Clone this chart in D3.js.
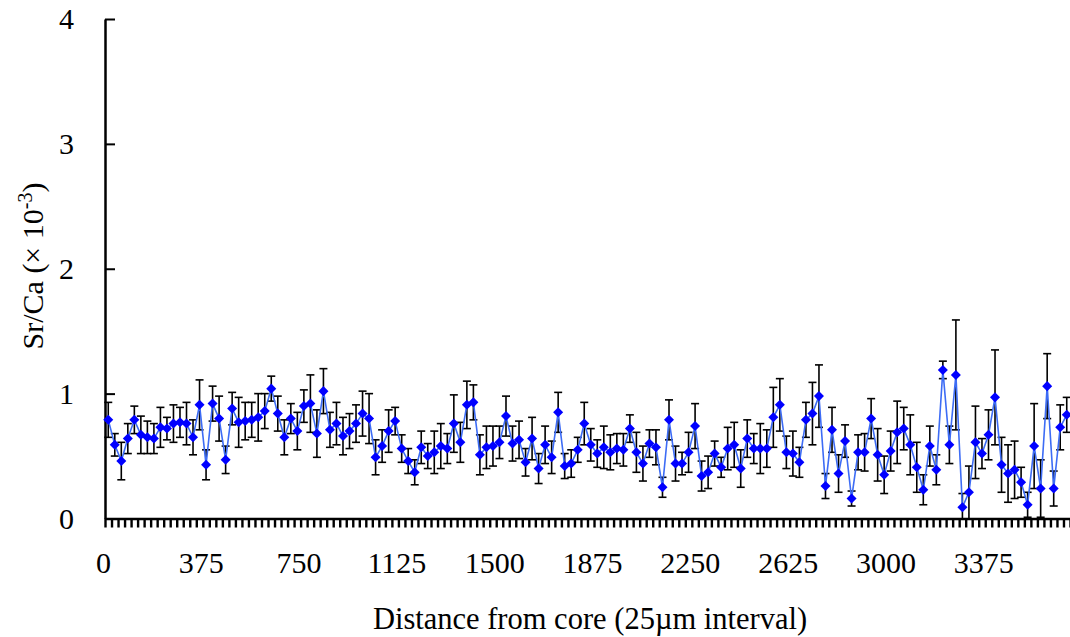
<!DOCTYPE html>
<html>
<head>
<meta charset="utf-8">
<script src="https://cdn.jsdelivr.net/npm/d3@7"></script>
<style>
  html, body { margin: 0; padding: 0; background: #fff; }
  svg text { font-family: "Liberation Serif", "Times New Roman", serif; fill: #000; }
</style>
</head>
<body>
<div id="chart"></div>
<script>
// Sr/Ca ratio (x 10^-3) measured every 25 µm from the core
const srCa = [
  0.79, 0.59, 0.46, 0.64, 0.79, 0.67, 0.65, 0.64, 0.73, 0.72,
  0.76, 0.77, 0.76, 0.65, 0.91, 0.43, 0.92, 0.80, 0.47, 0.88,
  0.77, 0.78, 0.79, 0.81, 0.86, 1.04, 0.84, 0.65, 0.80, 0.70,
  0.90, 0.92, 0.68, 1.02, 0.71, 0.76, 0.66, 0.70, 0.76, 0.84,
  0.80, 0.49, 0.58, 0.70, 0.78, 0.56, 0.46, 0.37, 0.57, 0.50,
  0.53, 0.58, 0.56, 0.76, 0.61, 0.91, 0.93, 0.51, 0.57, 0.58,
  0.61, 0.82, 0.60, 0.63, 0.45, 0.64, 0.40, 0.59, 0.49, 0.85,
  0.42, 0.44, 0.55, 0.76, 0.59, 0.52, 0.57, 0.53, 0.56, 0.55,
  0.72, 0.53, 0.44, 0.60, 0.57, 0.25, 0.79, 0.44, 0.44, 0.53,
  0.74, 0.34, 0.37, 0.52, 0.41, 0.56, 0.59, 0.40, 0.64, 0.56,
  0.56, 0.56, 0.81, 0.91, 0.53, 0.52, 0.45, 0.79, 0.84, 0.98,
  0.26, 0.71, 0.36, 0.62, 0.16, 0.53, 0.53, 0.80, 0.51, 0.35,
  0.54, 0.69, 0.72, 0.59, 0.41, 0.23, 0.58, 0.39, 1.19, 0.59,
  1.15, 0.09, 0.21, 0.61, 0.52, 0.67, 0.97, 0.43, 0.36, 0.39,
  0.29, 0.11, 0.58, 0.24, 1.06, 0.24, 0.73, 0.83
];

// error bar half-length for each point
const srCaErr = [
  0.14, 0.09, 0.15, 0.12, 0.11, 0.15, 0.13, 0.12, 0.16, 0.09,
  0.15, 0.12, 0.17, 0.14, 0.20, 0.12, 0.14, 0.18, 0.11, 0.13,
  0.20, 0.15, 0.14, 0.19, 0.14, 0.10, 0.14, 0.14, 0.12, 0.15,
  0.13, 0.23, 0.19, 0.18, 0.14, 0.17, 0.15, 0.14, 0.15, 0.18,
  0.20, 0.14, 0.13, 0.17, 0.11, 0.11, 0.10, 0.10, 0.13, 0.10,
  0.17, 0.18, 0.12, 0.23, 0.16, 0.19, 0.14, 0.16, 0.17, 0.16,
  0.13, 0.16, 0.14, 0.15, 0.11, 0.17, 0.12, 0.15, 0.13, 0.16,
  0.10, 0.11, 0.10, 0.17, 0.13, 0.11, 0.17, 0.14, 0.12, 0.13,
  0.11, 0.16, 0.14, 0.11, 0.14, 0.08, 0.16, 0.14, 0.09, 0.16,
  0.18, 0.12, 0.13, 0.10, 0.08, 0.17, 0.18, 0.15, 0.15, 0.12,
  0.20, 0.15, 0.24, 0.21, 0.13, 0.18, 0.12, 0.14, 0.25, 0.25,
  0.10, 0.18, 0.15, 0.13, 0.06, 0.14, 0.15, 0.16, 0.21, 0.15,
  0.16, 0.25, 0.17, 0.24, 0.20, 0.12, 0.16, 0.12, 0.07, 0.15,
  0.44, 0.11, 0.21, 0.29, 0.12, 0.20, 0.38, 0.22, 0.23, 0.23,
  0.12, 0.10, 0.34, 0.23, 0.26, 0.14, 0.18, 0.14
];

const interval = 25;            // µm between measurements
const xLabelValues = [0, 375, 750, 1125, 1500, 1875, 2250, 2625, 3000, 3375];
const yTickValues = [0, 1, 2, 3, 4];

const width = 1070, height = 637;
const plotLeft = 105, plotRight = 1070, plotTop = 19, plotBottom = 518.5;

const svg = d3.select("#chart").append("svg")
  .attr("width", width)
  .attr("height", height);

const xMax = srCa.length * interval;
const x = d3.scaleLinear().domain([0, xMax]).range([plotLeft, plotRight]);
const y = d3.scaleLinear().domain([0, 4]).range([plotBottom, plotTop]);

const points = srCa.map((v, i) => ({ d: i * interval + interval / 2, v, e: srCaErr[i] }));

// x axis: a small tick at every interval, labels every 375 µm
const xAxis = d3.axisBottom(x)
  .tickValues(d3.range(0, xMax + 1, interval))
  .tickSizeInner(9)
  .tickSizeOuter(0)
  .tickPadding(24)
  .tickFormat(d => xLabelValues.includes(d) ? d : "");

const gx = svg.append("g")
  .attr("transform", `translate(0,${plotBottom})`)
  .call(xAxis);
gx.select(".domain").attr("stroke", "#000").attr("stroke-width", 2.5);
gx.selectAll(".tick line").attr("stroke", "#000").attr("stroke-width", 2.4);
gx.selectAll(".tick text").style("font-size", "30px").attr("dx", -2);

// y axis: ticks point into the plot
const yAxis = d3.axisLeft(y)
  .tickValues(yTickValues)
  .tickSizeInner(-10)
  .tickSizeOuter(0)
  .tickPadding(31)
  .tickFormat(d3.format("d"));

const gy = svg.append("g")
  .attr("transform", `translate(${plotLeft},0)`)
  .call(yAxis);
gy.select(".domain").attr("stroke", "#000").attr("stroke-width", 2.5);
gy.selectAll(".tick line").attr("stroke", "#000").attr("stroke-width", 2);
gy.selectAll(".tick text").style("font-size", "30px");

// error bars
const eb = svg.append("g").attr("stroke", "#000").attr("stroke-width", 1.6);
const capW = 4;
points.forEach(p => {
  const yHi = y(p.v + p.e), yLo = y(Math.max(0, p.v - p.e));
  const px = x(p.d);
  eb.append("line").attr("x1", px).attr("x2", px).attr("y1", yHi).attr("y2", yLo);
  eb.append("line").attr("x1", px - capW).attr("x2", px + capW).attr("y1", yHi).attr("y2", yHi);
  if (p.v - p.e > 0) {
    eb.append("line").attr("x1", px - capW).attr("x2", px + capW).attr("y1", yLo).attr("y2", yLo);
  }
});

// connecting line
svg.append("path")
  .datum(points)
  .attr("fill", "none")
  .attr("stroke", "#3d6cf5")
  .attr("stroke-width", 1.6)
  .attr("d", d3.line().x(p => x(p.d)).y(p => y(p.v)));

// diamond markers
const diamond = d3.symbol().type(d3.symbolDiamond2 || d3.symbolDiamond).size(64);
svg.append("g")
  .selectAll("path")
  .data(points)
  .join("path")
  .attr("transform", p => `translate(${x(p.d)},${y(p.v)})`)
  .attr("d", diamond)
  .attr("fill", "#0000ff");

// axis titles
svg.append("text")
  .attr("x", 590)
  .attr("y", 629)
  .attr("text-anchor", "middle")
  .style("font-size", "30.5px")
  .text("Distance from core (25µm interval)");

const yTitle = svg.append("text")
  .attr("transform", "translate(43,266) rotate(-90)")
  .attr("text-anchor", "middle")
  .style("font-size", "30px");
yTitle.append("tspan").text("Sr/Ca (× 10");
yTitle.append("tspan").attr("dy", -11).style("font-size", "20px").text("-3");
yTitle.append("tspan").attr("dy", 11).text(")");
</script>
</body>
</html>
